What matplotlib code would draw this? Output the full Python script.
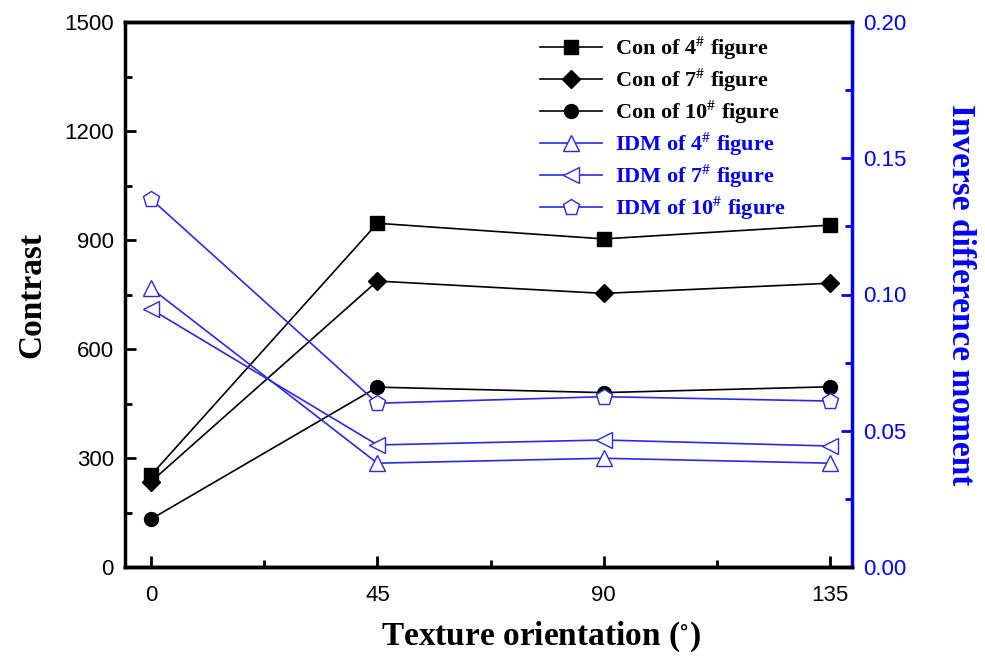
import matplotlib
matplotlib.use("Agg")
import matplotlib.pyplot as plt
from matplotlib.ticker import MultipleLocator

plt.rcParams['mathtext.fontset'] = 'stix'

orientation = [0, 45, 90, 135]
con4 = [253, 946, 903, 941]
con7 = [235, 787, 753, 781]
con10 = [132, 495, 480, 496]
idm4 = [0.1023, 0.0381, 0.0399, 0.0381]
idm7 = [0.0946, 0.0448, 0.0466, 0.0444]
idm10 = [0.1350, 0.0601, 0.0625, 0.0609]

con_labels = ["Con of 4$^{\\#}$ figure", "Con of 7$^{\\#}$ figure", "Con of 10$^{\\#}$ figure"]
idm_labels = ["IDM of 4$^{\\#}$ figure", "IDM of 7$^{\\#}$ figure", "IDM of 10$^{\\#}$ figure"]
x_ticks = [0, 45, 90, 135]
left_ticks = [0, 300, 600, 900, 1200, 1500]
right_ticks = [0.00, 0.05, 0.10, 0.15, 0.20]

BLUE = '#0000ff'
LINEB = '#2a2ae6'
serif = 'Liberation Serif'
sans = 'Liberation Sans'

fig = plt.figure(figsize=(9.85, 6.56), dpi=100)
ax = fig.add_axes([125/985, (656-567)/656, (852-125)/985, (567-22)/656])
ax2 = ax.twinx()

h = []
h += ax.plot(orientation, con4, color='black', lw=1.2, marker='s', ms=10, label=con_labels[0])
h += ax.plot(orientation, con7, color='black', lw=1.2, marker='D', ms=9, label=con_labels[1])
h += ax.plot(orientation, con10, color='black', lw=1.2, marker='o', ms=10, label=con_labels[2])
h += ax2.plot(orientation, idm4, color=LINEB, lw=1.2, marker='^', ms=12, mfc='white', mec=LINEB, label=idm_labels[0])
h += ax2.plot(orientation, idm7, color=LINEB, lw=1.2, marker='<', ms=12, mfc='white', mec=LINEB, label=idm_labels[1])
h += ax2.plot(orientation, idm10, color=LINEB, lw=1.2, marker='p', ms=12, mfc='white', mec=LINEB, label=idm_labels[2])

ax.set_xlim(-5.2, 139.4)
ax.set_ylim(0, 1500)
ax2.set_ylim(0, 0.20)
ax.set_xticks(x_ticks)
ax.set_yticks(left_ticks)
ax2.set_yticks(right_ticks)
ax.xaxis.set_minor_locator(MultipleLocator(22.5))
ax.yaxis.set_minor_locator(MultipleLocator(150))
ax2.yaxis.set_minor_locator(MultipleLocator(0.025))
ax2.set_yticklabels([f"{v:.2f}" for v in right_ticks])

for a in (ax, ax2):
    for s in a.spines.values():
        s.set_linewidth(2.5)
ax2.spines['right'].set_color(BLUE)
ax2.spines['left'].set_visible(False)
ax.spines['right'].set_visible(False)

ax.tick_params(axis='both', which='major', direction='in', length=8, width=2, labelsize=16, pad=8)
ax.tick_params(axis='x', which='major', pad=13)
ax.tick_params(axis='both', which='minor', direction='in', length=5, width=2)
ax2.tick_params(axis='y', which='major', direction='in', length=8, width=2, labelsize=16, pad=8,
                colors=BLUE)
ax2.tick_params(axis='y', which='minor', direction='in', length=5, width=2, colors=BLUE)
for lab in ax.get_xticklabels() + ax.get_yticklabels() + ax2.get_yticklabels():
    lab.set_family(sans)

ax.set_xlabel("Texture orientation ($^{\\circ}$)", fontsize=24, fontweight='bold', family=serif, labelpad=10)
ax.xaxis.label.set_x(0.572)
ax.set_ylabel("Contrast", fontsize=24, fontweight='bold', family=serif, labelpad=12)
ax2.set_ylabel("Inverse difference moment", fontsize=24, fontweight='bold', family=serif,
               color=BLUE, rotation=270, labelpad=50)

leg = ax2.legend(handles=h, loc='upper left', bbox_to_anchor=(0.543, 1.014), frameon=False,
                 prop={'family': serif, 'weight': 'bold', 'size': 16}, handlelength=2.8,
                 labelspacing=0.22, handletextpad=0.6)
for t, c in zip(leg.get_texts(), ['black']*3 + [BLUE]*3):
    t.set_color(c)

fig.savefig("out.png", dpi=100)
